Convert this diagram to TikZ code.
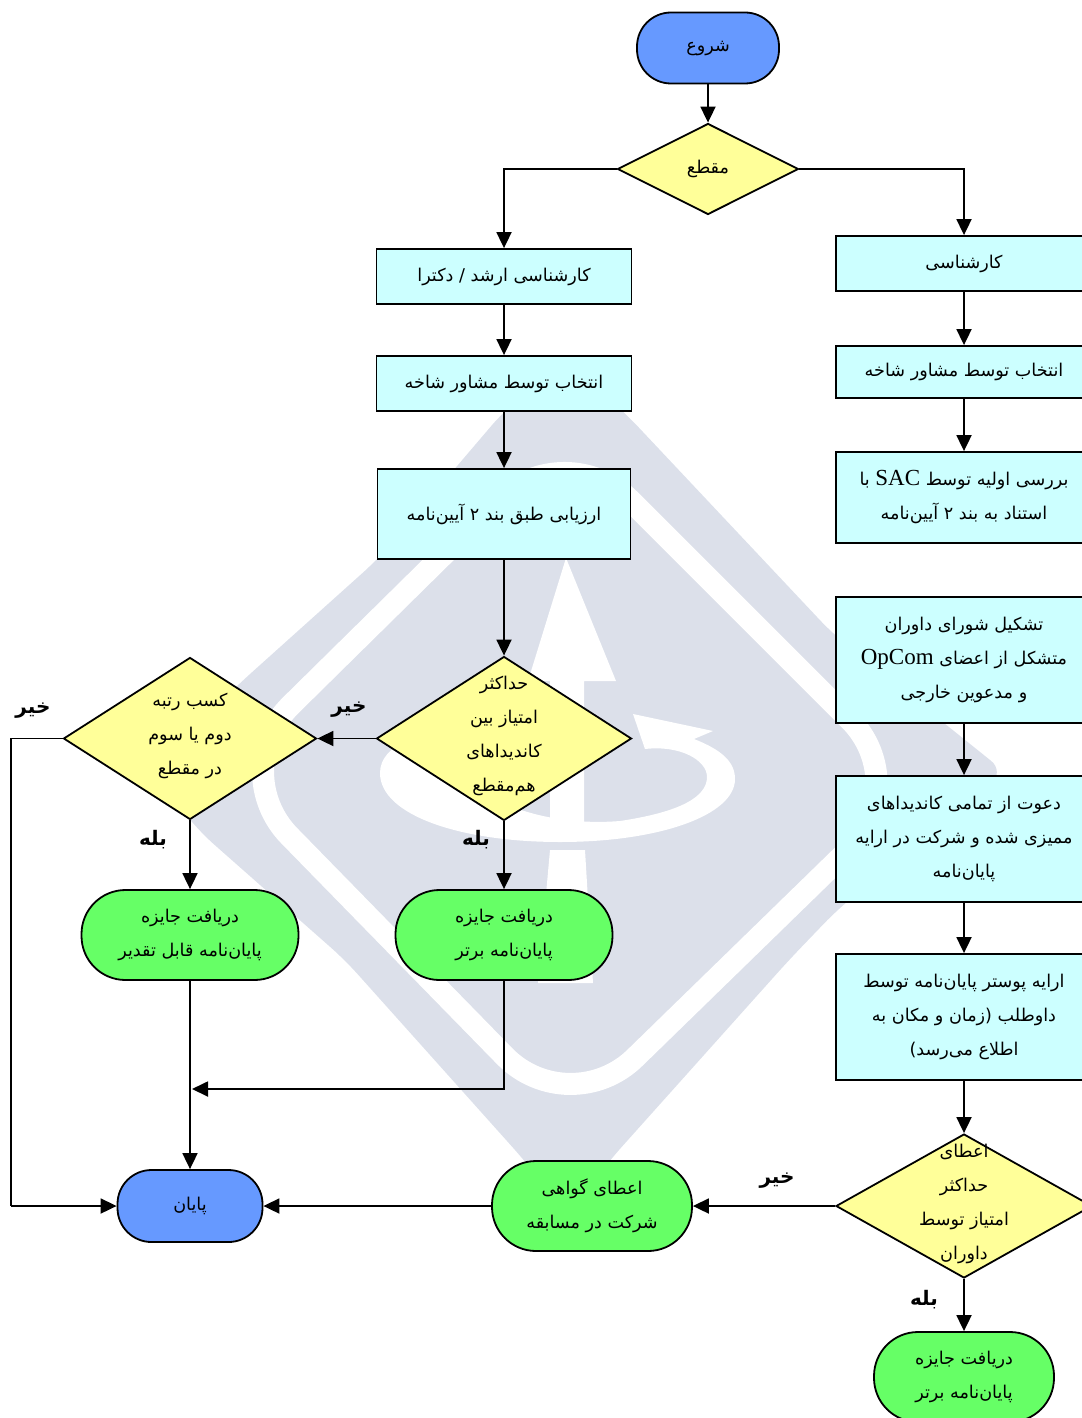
\documentclass[tikz,border=0pt]{standalone}
\usepackage{fontspec}
\usetikzlibrary{shapes.geometric,arrows.meta}
\TeXXeTstate=1
\newfontfamily\arabicfont[Script=Arabic]{DejaVu Sans}
\newfontfamily\latinfont{Liberation Serif}
\definecolor{markgray}{HTML}{DCE0EA}
\definecolor{boxcyan}{HTML}{CCFFFF}
\definecolor{askyellow}{HTML}{FFFF99}
\definecolor{prizegreen}{HTML}{66FF66}
\definecolor{termblue}{HTML}{6699FF}
\newcommand{\fa}[1]{\beginR #1\endR}
\newcommand{\lat}[1]{\beginL{\latinfont\fontsize{11.5}{17}\selectfont #1}\endL{}}
\newcommand{\squeezed}[1]{\smash{\makebox[0pt]{\begin{tabular}{@{}c@{}}#1\end{tabular}}}}
\tikzset{
    flowtext/.style={font=\arabicfont\fontsize{8.8}{17}\selectfont},
    flowbox/.style={draw, rectangle, fill=boxcyan, line width=.9pt, inner sep=0pt, align=center, flowtext},
    ask/.style={draw, diamond, fill=askyellow, line width=.9pt, inner sep=0pt, flowtext},
    prize/.style={draw, rectangle, rounded corners=22pt, fill=prizegreen, line width=.9pt, inner sep=0pt, align=center, flowtext},
    term/.style={draw, rectangle, rounded corners=17pt, fill=termblue, line width=.9pt, inner sep=0pt, align=center, flowtext},
    answer/.style={inner sep=0pt, font=\arabicfont\bfseries\fontsize{10}{12}\selectfont},
    arr/.style={draw, line width=.9pt, -{Triangle[length=8pt,width=7.5pt]}},
    plain/.style={draw, line width=.9pt}
}
\begin{document}
\begin{tikzpicture}[x=.5pt, y=-.5pt]
    \useasboundingbox (0,0) rectangle (1081,1418);
    % watermark
    \fill[markgray, rounded corners=9pt] (568,362) -- (504,411) -- (377,560) -- (240,683) -- (150,770)
        -- (200,832) -- (345,960) -- (524,1160) -- (568,1215) -- (610,1160) -- (789,960) -- (837,910)
        -- (1005,772) -- (833,634) -- (627,415) -- cycle;
    \draw[white, line width=11pt, rounded corners=46pt] (565,435) -- (915,785) -- (569,1122) -- (225,770) -- cycle;
    \fill[white] (566,558) -- (616,681) -- (584,681) -- (584,838) -- (550,838) -- (550,681) -- (528,681) -- cycle;
    \fill[white] (550,850) -- (585,850) -- (593,983) -- (538,983) -- cycle;
    \fill[white] (633,714) -- (713,731) -- (694,739) .. controls (722,750) and (735,762) .. (735,779)
        .. controls (735,815) and (660,842) .. (560,842) .. controls (460,842) and (380,815) .. (380,773)
        .. controls (380,745) and (420,730) .. (470,725) -- (460,770)
        .. controls (490,810) and (560,826) .. (620,821) .. controls (680,812) and (707,797) .. (707,777)
        .. controls (707,760) and (680,745) .. (645,749) -- cycle;

    \node[term, minimum width=71pt, minimum height=35.5pt] (begin) at (708,48) {\fa{شروع}};
    \node[ask, minimum width=90.5pt, minimum height=45.5pt] (level) at (708,169) {\fa{مقطع}};

    \node[flowbox, minimum width=127.5pt, minimum height=27.5pt] (master) at (504,276.5) {\fa{کارشناسی ارشد / دکترا}};
    \node[flowbox, minimum width=127.5pt, minimum height=27.5pt] (pickB) at (504,383.5) {\fa{انتخاب توسط مشاور شاخه}};
    \node[flowbox, minimum width=126.5pt, minimum height=45pt] (assess) at (504,514) {\fa{ارزیابی طبق بند ۲ آیین‌نامه}};
    \node[ask, minimum width=127.5pt, minimum height=82pt] (topB) at (504,738.5)
        {\squeezed{\fa{حداکثر}\\\fa{امتیاز بین}\\\fa{کاندیداهای}\\\fa{هم‌مقطع}}};
    \node[ask, minimum width=126.5pt, minimum height=81pt] (second) at (190,738.5)
        {\squeezed{\fa{کسب رتبه}\\\fa{دوم یا سوم}\\\fa{در مقطع}}};
    \node[prize, minimum width=108.5pt, minimum height=45pt] (awardB) at (504,935) {\fa{دریافت جایزه}\\\fa{پایان‌نامه برتر}};
    \node[prize, minimum width=108.5pt, minimum height=45pt] (awardC) at (190,935) {\fa{دریافت جایزه}\\\fa{پایان‌نامه قابل تقدیر}};

    \node[flowbox, minimum width=128pt, minimum height=27.5pt] (bachelor) at (964,263.5) {\fa{کارشناسی}};
    \node[flowbox, minimum width=128pt, minimum height=26pt] (pickA) at (964,372) {\fa{انتخاب توسط مشاور شاخه}};
    \node[flowbox, minimum width=128pt, minimum height=45.5pt] (review) at (964,497.5)
        {\fa{بررسی اولیه توسط \lat{SAC} با}\\\fa{استناد به بند ۲ آیین‌نامه}};
    \node[flowbox, minimum width=128pt, minimum height=63pt] (jury) at (964,660)
        {\fa{تشکیل شورای داوران}\\\fa{متشکل از اعضای \lat{OpCom}}\\\fa{و مدعوین خارجی}};
    \node[flowbox, minimum width=128pt, minimum height=63pt] (invite) at (964,839)
        {\fa{دعوت از تمامی کاندیداهای}\\\fa{ممیزی شده و شرکت  در ارایه}\\\fa{پایان‌نامه}};
    \node[flowbox, minimum width=128pt, minimum height=63pt] (poster) at (964,1017)
        {\fa{ارایه پوستر پایان‌نامه توسط}\\\fa{داوطلب (زمان و مکان به}\\\fa{اطلاع می‌رسد)}};
    \node[ask, minimum width=128pt, minimum height=72pt] (topA) at (964,1206)
        {\squeezed{\fa{اعطای}\\\fa{حداکثر}\\\fa{امتیاز توسط}\\\fa{داوران}}};
    \node[prize, minimum width=90pt, minimum height=45pt] (awardA) at (964,1377) {\fa{دریافت جایزه}\\\fa{پایان‌نامه برتر}};
    \node[prize, minimum width=100pt, minimum height=45pt] (certif) at (592,1206) {\fa{اعطای گواهی}\\\fa{شرکت  در مسابقه}};
    \node[term, minimum width=72.5pt, minimum height=36pt] (finish) at (190,1206) {\fa{پایان}};

    \node[answer] (noSecond) at (33,711) {\fa{خیر}};
    \node[answer] (noTop) at (349,710) {\fa{خیر}};
    \node[answer] (noJury) at (777,1181) {\fa{خیر}};
    \node[answer] (yesSecond) at (153,840) {\fa{بله}};
    \node[answer] (yesTop) at (476,840) {\fa{بله}};
    \node[answer] (yesJury) at (924,1300) {\fa{بله}};

    \coordinate (outTop) at (11,738.5);
    \coordinate (outEnd) at (11,1206);
    \coordinate (joinTip) at (192,1089);

    \draw[arr] (begin) -- (level);
    \draw[arr] (level.east) -| (bachelor.north);
    \draw[arr] (level.west) -| (master.north);
    \draw[arr] (master) -- (pickB);
    \draw[arr] (pickB) -- (assess);
    \draw[arr] (assess) -- (topB);
    \draw[arr] (topB) -- (second);
    \draw[arr] (topB) -- (awardB);
    \draw[arr] (second) -- (awardC);
    \draw[arr] (awardC) -- (finish);
    \draw[arr] (awardB.south) |- (joinTip);
    \draw[plain] (second.west) -- (outTop) -- (outEnd);
    \draw[arr] (outEnd) -- (finish.west);
    \draw[arr] (bachelor) -- (pickA);
    \draw[arr] (pickA) -- (review);
    \draw[arr] (jury) -- (invite);
    \draw[arr] (invite) -- (poster);
    \draw[arr] (poster) -- (topA);
    \draw[arr] (topA) -- (awardA);
    \draw[arr] (topA) -- (certif);
    \draw[arr] (certif) -- (finish);
\end{tikzpicture}
\end{document}
